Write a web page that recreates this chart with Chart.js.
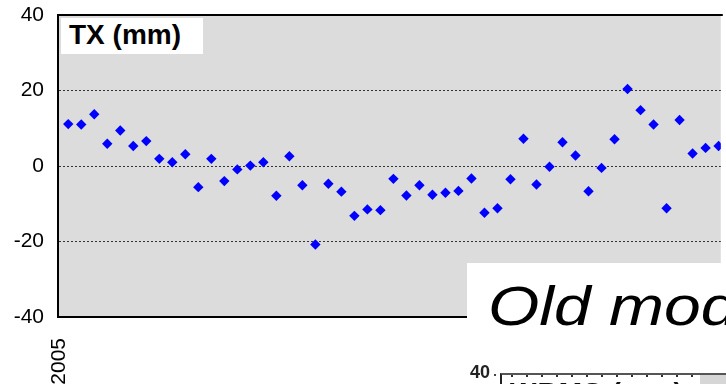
<!DOCTYPE html>
<html>
<head>
<meta charset="utf-8">
<script src="https://cdn.jsdelivr.net/npm/chart.js@4/dist/chart.umd.min.js"></script>
<style>
  html, body { margin: 0; padding: 0; background: #fff; overflow: hidden; }
  #wrap { position: relative; width: 726px; height: 384px; overflow: hidden; }
  #chartBox { position: absolute; left: 0; top: 0; width: 726px; height: 384px; }
  .panel-title {
    position: absolute; left: 61px; top: 18px; width: 142px; height: 36px;
    background: #fff;
  }
  .panel-title span {
    position: absolute; left: 8px; top: 2.6px; white-space: nowrap;
    font: bold 28px "Liberation Sans", Arial, sans-serif; line-height: 1; color: #000;
  }
  .caption {
    position: absolute; left: 467px; top: 263px; width: 259px; height: 97px;
    background: #fff; overflow: hidden;
  }
  .caption span {
    position: absolute; left: 21px; top: 16.4px; white-space: nowrap;
    font: italic 55px "Liberation Sans", Arial, sans-serif; line-height: 1; color: #000;
    transform: scaleX(1.2); transform-origin: 0 0;
  }
  .next-panel { position: absolute; left: 0; top: 0; width: 726px; height: 384px; filter: blur(0.45px); }
  .next-panel .ylab {
    position: absolute; left: 455px; top: 362.5px; width: 35px; text-align: right;
    font: bold 18px "Liberation Sans", Arial, sans-serif; line-height: 1; color: #222;
  }
  .next-panel .dot { position: absolute; left: 494px; top: 374px; width: 2px; height: 2px; background: #444; }
  .next-panel .frame {
    position: absolute; left: 500px; top: 373px; width: 240px; height: 30px;
    border-top: 2px solid #555; border-left: 2px solid #222;
    background:
      linear-gradient(90deg, transparent 0, transparent 198px, #d6d6d6 198px),
      repeating-linear-gradient(90deg, transparent 0, transparent 9px, #333 9px, #333 11px, transparent 11px, transparent 15px);
    background-size: 100% 100%, 100% 2px;
    background-repeat: no-repeat, repeat-x;
  }
  .next-panel .frame span {
    position: absolute; left: 8px; top: 4.3px; white-space: nowrap; letter-spacing: 1px;
    font: bold 28px "Liberation Sans", Arial, sans-serif; line-height: 1; color: #111;
  }
</style>
</head>
<body>
<div id="wrap">
  <div id="chartBox"><canvas id="c"></canvas></div>
  <div class="panel-title"><span>TX (mm)</span></div>
  <div class="caption"><span>Old model</span></div>
  <div class="next-panel">
    <div class="ylab">40</div>
    <div class="dot"></div>
    <div class="frame"><span>WRMS (mm)</span></div>
  </div>
</div>
<script>
// Monthly TX residuals (mm), starting January 2005
const START_YEAR = 2005;
const END_YEAR = 2009.24;          // right edge of the visible window
const MONTH_OFFSET = 0.71;         // sample day within each month, as a fraction
const txValues = [
  11.1, 11.0, 13.7, 5.9, 9.4, 5.3, 6.6, 1.9, 1.0, 3.1,
  -5.6, 1.9, -4.0, -0.9, 0.1, 1.0, -7.9, 2.6, -5.1, -20.8,
  -4.7, -6.8, -13.2, -11.5, -11.7, -3.4, -7.8, -5.1, -7.6, -7.1,
  -6.6, -3.3, -12.4, -11.2, -3.5, 7.2, -4.9, -0.2, 6.3, 2.8,
  -6.7, -0.5, 7.1, 20.4, 14.8, 11.0, -11.2, 12.2, 3.3, 4.8, 5.3
];
const yTicks = [-40, -20, 0, 20, 40];
const xTickLabels = [2005];

const points = txValues.map((v, i) => ({ x: START_YEAR + (i + MONTH_OFFSET) / 12, y: v }));

// gray plotting field and black frame (left, top, bottom)
const panelFrame = {
  id: 'panelFrame',
  beforeDraw(chart) {
    const { ctx, chartArea: a } = chart;
    ctx.save();
    ctx.fillStyle = '#dcdcdc';
    ctx.fillRect(a.left, a.top, a.right - a.left, a.bottom - a.top);
    ctx.restore();
  },
  afterDraw(chart) {
    const { ctx, chartArea: a } = chart;
    ctx.save();
    ctx.strokeStyle = '#000';
    ctx.lineWidth = 2;
    ctx.beginPath();
    ctx.moveTo(a.right + 2, a.top);
    ctx.lineTo(a.left - 1, a.top);
    ctx.lineTo(a.left - 1, a.bottom);
    ctx.lineTo(a.right + 2, a.bottom);
    ctx.stroke();
    ctx.restore();
  }
};

new Chart(document.getElementById('c'), {
  type: 'scatter',
  data: {
    datasets: [{
      data: points,
      pointStyle: 'rectRot',
      pointRadius: 5.2,
      pointHoverRadius: 5.2,
      pointBackgroundColor: '#0000ff',
      pointBorderWidth: 0,
      showLine: false
    }]
  },
  options: {
    responsive: true,
    maintainAspectRatio: false,
    animation: false,
    events: [],
    layout: { padding: { top: 15, left: 0, right: 0, bottom: 0 } },
    plugins: { legend: { display: false }, tooltip: { enabled: false } },
    scales: {
      x: {
        type: 'linear',
        min: START_YEAR,
        max: END_YEAR,
        afterBuildTicks(s) { s.ticks = xTickLabels.map(v => ({ value: v })); },
        afterFit(s) { s.height = 67; s.paddingLeft = 0; s.paddingRight = 0; },
        grid: { display: false },
        border: { display: false },
        ticks: {
          autoSkip: false,
          minRotation: 90,
          maxRotation: 90,
          padding: 13,
          color: '#000',
          font: { family: '"Liberation Sans", Arial, sans-serif', size: 21 },
          callback: v => String(v)
        }
      },
      y: {
        min: -40,
        max: 40,
        afterBuildTicks(s) { s.ticks = yTicks.map(v => ({ value: v })); },
        afterFit(s) { s.width = 59; s.paddingTop = 0; s.paddingBottom = 0; },
        grid: {
          drawTicks: false,
          lineWidth: 1,
          color: c => (Math.abs(c.tick.value) === 40 ? 'rgba(0,0,0,0)' : '#333')
        },
        border: { display: false, dash: [2, 2] },
        ticks: {
          padding: 15,
          color: '#000',
          font: { family: '"Liberation Sans", Arial, sans-serif', size: 21 },
          callback: v => String(v)
        }
      }
    }
  },
  plugins: [panelFrame]
});
</script>
</body>
</html>
